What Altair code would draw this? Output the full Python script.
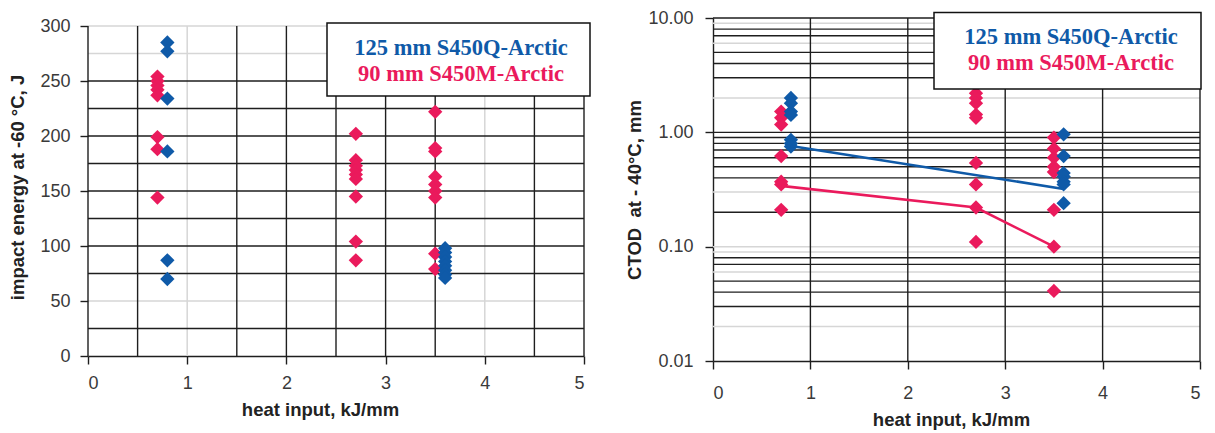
import altair as alt
import pandas as pd

BLUE = "#0F5AA8"
RED = "#EA1A5C"
SER_B = "125 mm S450Q-Arctic"
SER_R = "90 mm S450M-Arctic"

# ---------------- impact energy panel ----------------
imp_red_x = [0.7] * 8 + [2.7] * 9 + [3.5] * 9
imp_red_y = [254, 250, 246, 242, 237, 199, 188, 144,
             202, 178, 173, 169, 165, 161, 145, 104, 87,
             222, 189, 186, 163, 156, 150, 144, 93, 79]
imp_blue_x = [0.8] * 6 + [3.6] * 8
imp_blue_y = [285, 277, 234, 186, 87, 70,
              98, 94, 90, 86, 82, 78, 74, 71]

imp_grid_black_y = [25, 75, 100, 125, 150, 175, 200, 225, 250]
imp_grid_gray_y = [50, 275, 300]
imp_grid_black_x = [0, 0.5, 1.5, 2, 2.5, 3, 3.5, 4.5, 5]
imp_grid_gray_x = [1, 4]
imp_y_ticks = [0, 50, 100, 150, 200, 250, 300]
x_ticks = [0, 1, 2, 3, 4, 5]

# ---------------- CTOD panel ----------------
ctod_red_x = [0.7] * 7 + [2.7] * 9 + [3.5] * 8
ctod_red_y = [1.52, 1.34, 1.17, 0.62, 0.37, 0.35, 0.21,
              2.2, 2.0, 1.8, 1.43, 1.34, 0.54, 0.35, 0.22, 0.11,
              0.9, 0.72, 0.6, 0.5, 0.45, 0.21, 0.10, 0.041]
ctod_blue_x = [0.8] * 7 + [3.6] * 7
ctod_blue_y = [2.0, 1.8, 1.52, 1.42, 0.86, 0.8, 0.75,
               0.96, 0.62, 0.44, 0.41, 0.37, 0.35, 0.24]
trend_blue_x = [0.8, 3.6]
trend_blue_y = [0.76, 0.32]
trend_red_x = [0.7, 2.7, 3.5]
trend_red_y = [0.34, 0.22, 0.10]

ctod_grid_black_y = [10, 8, 7, 5, 4, 3, 1, 0.9, 0.8, 0.7, 0.6, 0.5, 0.4, 0.2,
                     0.08, 0.07, 0.05, 0.04, 0.03]
ctod_grid_gray_y = [9, 6, 2, 0.3, 0.1, 0.09, 0.06, 0.02]
ctod_grid_black_x = [1, 2, 3, 4, 5]
ctod_y_ticks = [0.01, 0.1, 1, 10]

legend_labels = [SER_B, SER_R]

GRID_BLACK = "#1e1e1e"
GRID_GRAY = "#d6d6d6"
FONT = "Liberation Sans"

color_scale = alt.Scale(domain=[SER_B, SER_R], range=[BLUE, RED])

# ---------- left chart ----------
imp_pts = pd.DataFrame({
    "x": imp_red_x + imp_blue_x,
    "y": imp_red_y + imp_blue_y,
    "s": [SER_R] * len(imp_red_x) + [SER_B] * len(imp_blue_x),
})

LW, LH = 496, 338
L_YMAX = 300 * LH / 330.0

xL = alt.X("x:Q", scale=alt.Scale(domain=[0, 5], nice=False),
           axis=alt.Axis(values=x_ticks, title="heat input, kJ/mm", grid=False,
                         labelPadding=10, titlePadding=8, titleX=232))
yL_scale = alt.Scale(domain=[0, L_YMAX], nice=False, zero=False)

left_axis_holder = alt.Chart(pd.DataFrame({"y": imp_grid_gray_y})).mark_rule(
    color=GRID_GRAY, strokeWidth=1.5
).encode(
    y=alt.Y("y:Q", scale=yL_scale,
            axis=alt.Axis(values=imp_y_ticks, title="impact energy at -60 °C, J",
                          grid=False, domain=False, labelPadding=10, titlePadding=12)),
)
gray_vx = alt.Chart(pd.DataFrame({"x": imp_grid_gray_x, "y0": [0] * 2, "y1": [300] * 2})).mark_rule(
    color=GRID_GRAY, strokeWidth=1.5
).encode(x=xL, y=alt.Y("y0:Q", scale=yL_scale), y2="y1:Q")
black_hy = alt.Chart(pd.DataFrame({"y": imp_grid_black_y})).mark_rule(
    color=GRID_BLACK, strokeWidth=1.4
).encode(y=alt.Y("y:Q", scale=yL_scale))
black_vx = alt.Chart(pd.DataFrame({"x": imp_grid_black_x,
                                   "y0": [0] * len(imp_grid_black_x),
                                   "y1": [300] * len(imp_grid_black_x)})).mark_rule(
    color=GRID_BLACK, strokeWidth=1.4
).encode(x=xL, y=alt.Y("y0:Q", scale=yL_scale), y2="y1:Q")
pts_L = alt.Chart(imp_pts).mark_point(shape="diamond", filled=True, size=205, opacity=1).encode(
    x=xL, y=alt.Y("y:Q", scale=yL_scale),
    color=alt.Color("s:N", scale=color_scale, legend=None),
)

leg_df = pd.DataFrame({"s": legend_labels, "row": [0, 1]})


def legend_layers(x0, x1, y0, y1, cx, ty):
    box = alt.Chart(pd.DataFrame({"a": [0]})).mark_rect(
        fill="white", stroke="#111", strokeWidth=1.5
    ).encode(x=alt.value(x0), x2=alt.value(x1), y=alt.value(y0), y2=alt.value(y1))
    txt = []
    for i, lab in enumerate(legend_labels):
        txt.append(alt.Chart(leg_df[leg_df["row"] == i]).mark_text(
            font="Liberation Serif", fontWeight="bold", fontSize=22.5,
            align="center", baseline="middle"
        ).encode(text="s:N", x=alt.value(cx), y=alt.value(ty[i]),
                 color=alt.Color("s:N", scale=color_scale, legend=None)))
    return [box] + txt


left = alt.layer(
    left_axis_holder, gray_vx, black_hy, black_vx, pts_L,
    *legend_layers(239, 502, 5, 78, 373, [29.5, 56])
).properties(width=LW, height=LH)

# ---------- right chart ----------
ctod_pts = pd.DataFrame({
    "x": ctod_red_x + ctod_blue_x,
    "y": ctod_red_y + ctod_blue_y,
    "s": [SER_R] * len(ctod_red_x) + [SER_B] * len(ctod_blue_x),
})
trend = pd.DataFrame({
    "x": trend_red_x + trend_blue_x,
    "y": trend_red_y + trend_blue_y,
    "s": [SER_R] * len(trend_red_x) + [SER_B] * len(trend_blue_x),
})
RW, RH = 487, 343

xR = alt.X("x:Q", scale=alt.Scale(domain=[0, 5], nice=False),
           axis=alt.Axis(values=x_ticks, title="heat input, kJ/mm", grid=False,
                         labelPadding=15, titlePadding=8, titleX=238))
yR_scale = alt.Scale(type="log", domain=[0.01, 10], nice=False)

r_gray = alt.Chart(pd.DataFrame({"y": ctod_grid_gray_y})).mark_rule(
    color=GRID_GRAY, strokeWidth=1.5
).encode(y=alt.Y("y:Q", scale=yR_scale,
                 axis=alt.Axis(values=ctod_y_ticks, format=".2f",
                               title="CTOD\u00a0\u00a0at - 40°C, mm", grid=False,
                               labelPadding=12, titlePadding=3)))
r_black_y = alt.Chart(pd.DataFrame({"y": ctod_grid_black_y})).mark_rule(
    color=GRID_BLACK, strokeWidth=1.4
).encode(y=alt.Y("y:Q", scale=yR_scale))
r_black_x = alt.Chart(pd.DataFrame({"x": ctod_grid_black_x})).mark_rule(
    color=GRID_BLACK, strokeWidth=1.4
).encode(x=xR)
pts_R = alt.Chart(ctod_pts).mark_point(shape="diamond", filled=True, size=205, opacity=1).encode(
    x=xR, y=alt.Y("y:Q", scale=yR_scale),
    color=alt.Color("s:N", scale=color_scale, legend=None),
)
lines_R = alt.Chart(trend).mark_line(strokeWidth=2.6).encode(
    x=xR, y=alt.Y("y:Q", scale=yR_scale),
    color=alt.Color("s:N", scale=color_scale, legend=None),
    detail="s:N",
)

right = alt.layer(
    r_gray, r_black_y, r_black_x, pts_R, lines_R,
    *legend_layers(221, 488, -5.5, 71, 358, [19, 45])
).properties(width=RW, height=RH)

chart = alt.hconcat(left, right, spacing=34).properties(
    padding={"left": 8, "top": 9, "right": 5, "bottom": 2},
    background="white",
).configure_view(stroke=None).configure_axis(
    labelFont=FONT, labelFontSize=18, labelColor="#3a3a3a",
    titleFont=FONT, titleFontSize=18.5, titleFontWeight="bold", titleColor="#222",
    tickColor=GRID_BLACK, tickSize=8, tickWidth=1.4,
    domainColor=GRID_BLACK, domainWidth=1.4,
)

chart.save("out.html", embed_options={"renderer": "svg", "actions": False})
